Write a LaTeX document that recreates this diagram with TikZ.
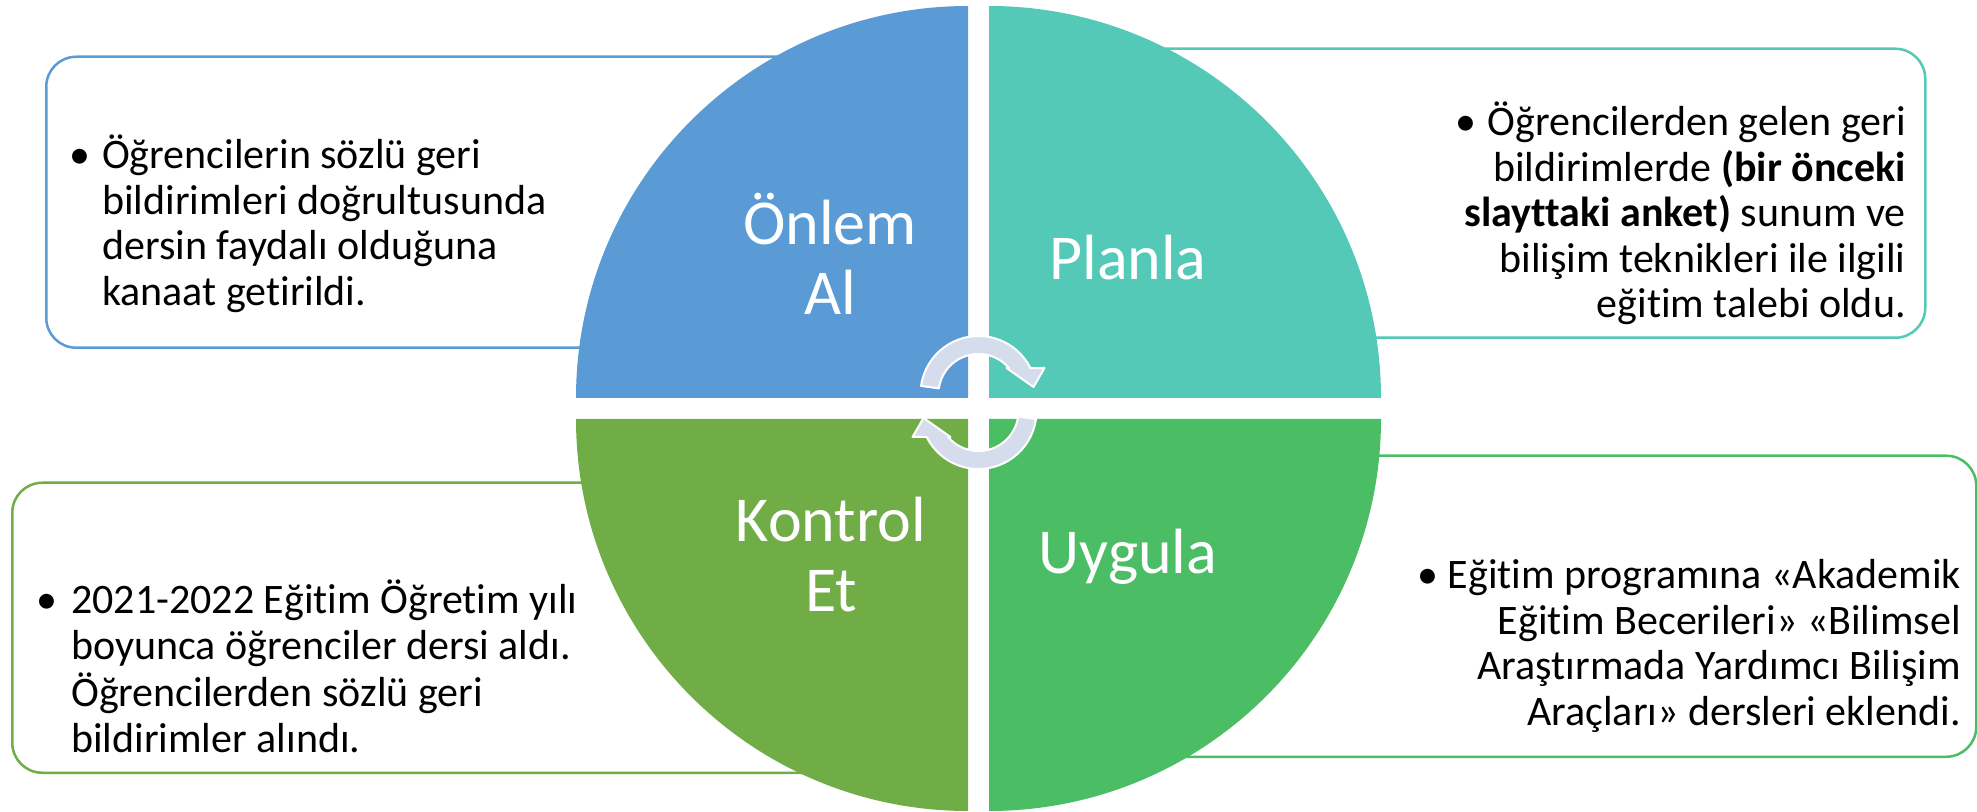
\documentclass[tikz,border=0pt]{standalone}
\usepackage{fontspec}
\setmainfont{Carlito}[Ligatures={NoCommon,NoRequired,NoContextual}]
\definecolor{qblue}{HTML}{5B9BD5}
\definecolor{qteal}{HTML}{54C9B7}
\definecolor{qgreenA}{HTML}{70AD47}
\definecolor{qgreenB}{HTML}{4BBE65}
\definecolor{arrowfill}{HTML}{D5DCEC}
\begin{document}
\begin{tikzpicture}[x=1pt,y=1pt,
  infobox/.style={draw, line width=2.5pt, fill=white, rounded corners=30pt, inner sep=0pt, anchor=south west},
  body/.style={inner sep=0pt, font=\fontsize{42}{45.5}\selectfont, text=black},
  qlabel/.style={inner sep=0pt, font=\fontsize{64}{70}\selectfont, text=white, anchor=base},
  cyc/.style={fill=arrowfill, draw=white, line width=2pt, line join=round}]
\useasboundingbox (0,0) rectangle (1977,811);
% boxes
\node[infobox, draw=qblue, minimum width=855pt, minimum height=291pt] (tlbox) at (45,462) {};
\node[infobox, draw=qteal, minimum width=864pt, minimum height=289pt] (trbox) at (1060,472) {};
\node[infobox, draw=qgreenA, minimum width=889pt, minimum height=290pt] (blbox) at (11,37) {};
\node[infobox, draw=qgreenB, minimum width=915pt, minimum height=301pt] (brbox) at (1060,53) {};
% quadrants
\fill[qblue] (968,413) -- (576,413) arc[start angle=180, end angle=90, radius=392] -- cycle;
\fill[qteal] (989,413) -- (989,805) arc[start angle=90, end angle=0, radius=392] -- cycle;
\fill[qgreenA] (968,392) -- (968,0) arc[start angle=270, end angle=180, radius=392] -- cycle;
\fill[qgreenB] (989,392) -- (1381,392) arc[start angle=0, end angle=-90, radius=392] -- cycle;
% box texts
\node[body, anchor=base west] (tltext) at (69,642) {\begin{tabular}[t]{@{}l@{}l@{}}\makebox[33pt][l]{\textbullet} & Öğrencilerin sözlü geri\\ & bildirimleri doğrultusunda\\ & dersin faydalı olduğuna\\ & kanaat getirildi.\end{tabular}};
\node[body, anchor=base east] (trtext) at (1906,675) {\begin{tabular}[t]{@{}r@{}}\makebox[32pt][l]{\textbullet}Öğrencilerden gelen geri\\ bildirimlerde \textbf{(bir önceki}\\ \textbf{slayttaki anket)} sunum ve\\ bilişim teknikleri ile ilgili\\ eğitim talebi oldu.\end{tabular}};
\node[body, anchor=base west] (bltext) at (36,197) {\begin{tabular}[t]{@{}l@{}l@{}}\makebox[35pt][l]{\textbullet} & 2021-2022 Eğitim Öğretim yılı\\ & boyunca öğrenciler dersi aldı.\\ & Öğrencilerden sözlü geri\\ & bildirimler alındı.\end{tabular}};
\node[body, anchor=base east] (brtext) at (1961,222) {\begin{tabular}[t]{@{}r@{}}\makebox[30pt][l]{\textbullet}Eğitim programına «Akademik\\ Eğitim Becerileri» «Bilimsel\\ Araştırmada Yardımcı Bilişim\\ Araçları» dersleri eklendi.\end{tabular}};
% quadrant labels
\node[qlabel] (onlem) at (830,566) {\begin{tabular}[t]{@{}c@{}}Önlem\\Al\end{tabular}};
\node[qlabel] (planla) at (1128,531) {Planla};
\node[qlabel] (kontrol) at (831,269) {\begin{tabular}[t]{@{}c@{}}Kontrol\\Et\end{tabular}};
\node[qlabel] (uygula) at (1128,237) {Uygula};
% circular arrows
\begin{scope}[shift={(978.5,417)}]
\draw[cyc] (172:58) arc[start angle=172, end angle=26.6, radius=58] -- (66,26) -- (55,7) -- (28,26) -- (30.4,26) arc[start angle=40.5, end angle=172, radius=40] -- cycle;
\end{scope}
\begin{scope}[shift={(978.5,400)}, rotate=180]
\draw[cyc] (172:58) arc[start angle=172, end angle=26.6, radius=58] -- (66,26) -- (55,7) -- (28,26) -- (30.4,26) arc[start angle=40.5, end angle=172, radius=40] -- cycle;
\end{scope}
\end{tikzpicture}
\end{document}
